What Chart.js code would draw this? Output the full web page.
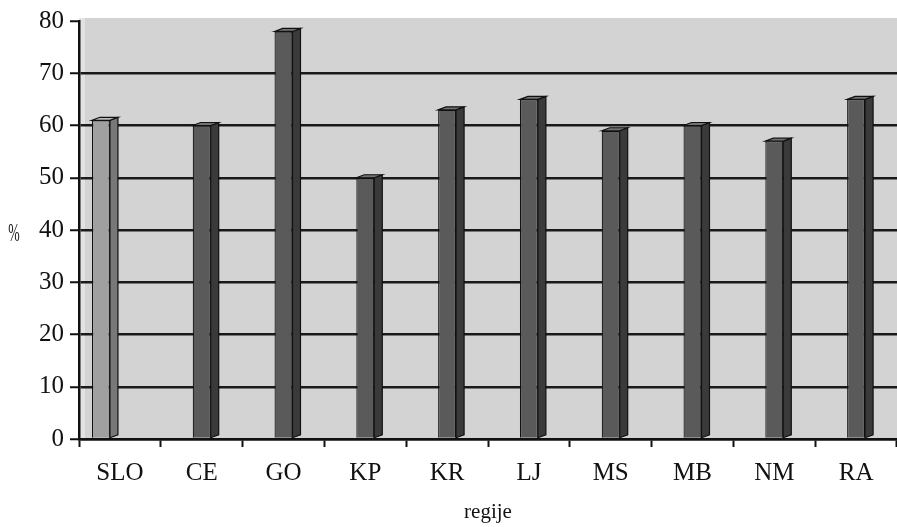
<!DOCTYPE html>
<html>
<head>
<meta charset="utf-8">
<script src="https://cdn.jsdelivr.net/npm/chart.js@4/dist/chart.umd.min.js"></script>
<style>
  html, body { margin: 0; padding: 0; background: #ffffff; }
  #wrap { width: 897px; height: 527px; }
</style>
</head>
<body>
<div id="wrap"><canvas id="chart" width="897" height="527"></canvas></div>
<script>
// Regions and their shares (%); Slovenia as a whole is its own series.
const regions = ['SLO', 'CE', 'GO', 'KP', 'KR', 'LJ', 'MS', 'MB', 'NM', 'RA'];
const sloValues = [61, null, null, null, null, null, null, null, null, null];
const regionValues = [null, 60, 78, 50, 63, 65, 59, 60, 57, 65];
const yTicks = [0, 10, 20, 30, 40, 50, 60, 70, 80];
const yUnit = '%';
const xTitle = 'regije';

const SERIF = '"Liberation Serif", "Times New Roman", serif';

// Grey back wall behind the columns
const wallPlugin = {
  id: 'wall',
  beforeDraw(chart) {
    const { ctx, chartArea: a } = chart;
    ctx.save();
    ctx.fillStyle = '#d3d3d3';
    ctx.fillRect(a.left, a.top - 3, a.right - a.left, a.bottom - a.top + 3);
    // lighter strip of the side wall next to the value axis
    ctx.fillStyle = '#e2e2e2';
    ctx.fillRect(a.left, a.top - 3, 6, a.bottom - a.top + 3);
    ctx.restore();
  }
};

// Side and top faces giving each column its depth
const depthPlugin = {
  id: 'depth',
  afterDatasetsDraw(chart) {
    const { ctx } = chart;
    const dx = 8, dy = 3;
    chart.data.datasets.forEach((ds, di) => {
      const meta = chart.getDatasetMeta(di);
      meta.data.forEach((el, i) => {
        if (ds.data[i] == null) return;
        const p = el.getProps(['x', 'y', 'base', 'width'], true);
        const l = p.x - p.width / 2, r = p.x + p.width / 2;
        ctx.save();
        ctx.lineWidth = 1.2;
        ctx.strokeStyle = '#111';
        // side
        ctx.beginPath();
        ctx.moveTo(r, p.y);
        ctx.lineTo(r + dx, p.y - dy);
        ctx.lineTo(r + dx, p.base - dy);
        ctx.lineTo(r, p.base);
        ctx.closePath();
        ctx.fillStyle = ds.sideColor;
        ctx.fill();
        ctx.stroke();
        // top
        ctx.beginPath();
        ctx.moveTo(l, p.y);
        ctx.lineTo(l + dx, p.y - dy);
        ctx.lineTo(r + dx, p.y - dy);
        ctx.lineTo(r, p.y);
        ctx.closePath();
        ctx.fillStyle = ds.topColor;
        ctx.fill();
        ctx.stroke();
        ctx.restore();
      });
    });
  }
};

// Unit label on the left, upright and narrow
const unitPlugin = {
  id: 'unit',
  afterDraw(chart) {
    const { ctx, chartArea: a } = chart;
    ctx.save();
    ctx.translate(14, (a.top + a.bottom) / 2 + 4);
    ctx.scale(0.55, 1);
    ctx.font = '25px ' + SERIF;
    ctx.fillStyle = '#222';
    ctx.textAlign = 'center';
    ctx.textBaseline = 'middle';
    ctx.fillText(yUnit, 0, 0);
    ctx.restore();
  }
};

new Chart(document.getElementById('chart'), {
  type: 'bar',
  data: {
    labels: regions,
    datasets: [
      {
        label: 'Slovenija',
        data: sloValues,
        backgroundColor: '#a0a0a0',
        sideColor: '#787878',
        topColor: '#bababa',
        borderColor: '#111',
        borderWidth: 1.2,
        barPercentage: 0.474,
        categoryPercentage: 0.927,
        skipNull: false
      },
      {
        label: 'regije',
        data: regionValues,
        backgroundColor: '#5a5a5a',
        sideColor: '#3a3a3a',
        topColor: '#727272',
        borderColor: '#111',
        borderWidth: 1.2,
        barPercentage: 0.237,
        categoryPercentage: 0.927,
        skipNull: true
      }
    ]
  },
  options: {
    responsive: false,
    devicePixelRatio: 1,
    animation: false,
    layout: { padding: { top: 21, right: 0, left: 0, bottom: 0 } },
    plugins: {
      legend: { display: false },
      tooltip: { enabled: false },
      title: { display: false }
    },
    scales: {
      x: {
        afterFit(scale) { scale.height = 88; },
        border: { display: true, color: '#111', width: 2.5 },
        grid: {
          offset: true,
          drawOnChartArea: false,
          drawTicks: true,
          tickLength: 8,
          tickColor: '#111',
          tickWidth: 2
        },
        ticks: {
          color: '#111',
          padding: 11,
          font: { family: SERIF, size: 25 }
        },
        title: {
          display: true,
          text: xTitle,
          color: '#111',
          font: { family: SERIF, size: 21 },
          padding: { top: 0, bottom: 2 }
        }
      },
      y: {
        min: 0,
        max: 80,
        afterFit(scale) { scale.width = 79; },
        afterBuildTicks(scale) { scale.ticks = yTicks.map(v => ({ value: v })); },
        border: { display: true, color: '#111', width: 2.5 },
        grid: {
          color: ctx => (ctx.tick && ctx.tick.value === 80) ? 'rgba(0,0,0,0)' : '#1a1a1a',
          lineWidth: 2.5,
          drawTicks: true,
          tickLength: 9,
          tickColor: '#111',
          tickWidth: 2
        },
        ticks: {
          color: '#111',
          padding: 6,
          font: { family: SERIF, size: 25 }
        }
      }
    }
  },
  plugins: [wallPlugin, depthPlugin, unitPlugin]
});
</script>
</body>
</html>
